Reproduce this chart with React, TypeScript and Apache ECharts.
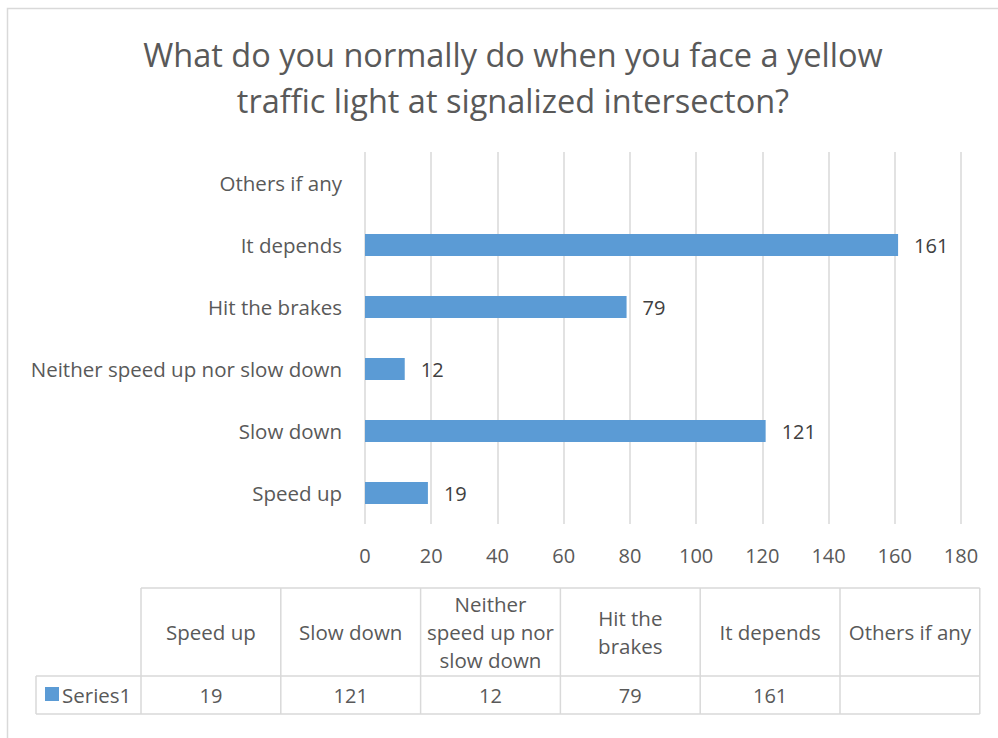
import React, { useEffect, useRef } from "react";
import * as echarts from "echarts";

const TITLE = "What do you normally do when you face a yellow\ntraffic light at signalized intersecton?";
const CATEGORIES = ["Speed up", "Slow down", "Neither speed up nor slow down", "Hit the brakes", "It depends", "Others if any"];
const TABLE_HEADERS = ["Speed up", "Slow down", "Neither\nspeed up nor\nslow down", "Hit the\nbrakes", "It depends", "Others if any"];
const SERIES_NAME = "Series1";
const VALUES: (number | null)[] = [19, 121, 12, 79, 161, null];
const X_MIN = 0;
const X_MAX = 180;
const X_STEP = 20;

const FONT = "'Open Sans', sans-serif";
const FS_TEXT = 20.5;
const FS_NUM = 20;
const TEXT = "#595959";
const LINE = "#d9d9d9";
const BAR = "#5b9bd5";

function buildTable(): any[] {
  const left = 141;
  const colW = 139.8;
  const top = 588;
  const headH = 88;
  const rowH = 38;
  const keyLeft = 36;
  const els: any[] = [];
  const n = TABLE_HEADERS.length;
  const right = left + colW * n;
  const line = (x1: number, y1: number, x2: number, y2: number) => ({
    type: "line",
    shape: { x1, y1, x2, y2 },
    style: { stroke: LINE, lineWidth: 1.5 },
    silent: true,
  });
  // horizontal rules
  els.push(line(left, top, right, top));
  els.push(line(keyLeft, top + headH, right, top + headH));
  els.push(line(keyLeft, top + headH + rowH, right, top + headH + rowH));
  // vertical rules
  els.push(line(keyLeft, top + headH, keyLeft, top + headH + rowH));
  for (let i = 0; i <= n; i++) {
    const x = left + colW * i;
    els.push(line(x, top, x, top + headH + rowH));
  }
  // header and value cells
  TABLE_HEADERS.forEach((h, i) => {
    const cx = left + colW * (i + 0.5);
    els.push({
      type: "text",
      x: cx,
      y: top + headH / 2,
      style: {
        text: h,
        fill: TEXT,
        font: `${FS_TEXT}px ${FONT}`,
        align: "center",
        verticalAlign: "middle",
        lineHeight: 28,
      },
      silent: true,
    });
    const v = VALUES[i];
    if (v !== null && v !== undefined) {
      els.push({
        type: "text",
        x: cx,
        y: top + headH + rowH / 2,
        style: {
          text: String(v),
          fill: TEXT,
          font: `${FS_NUM}px ${FONT}`,
          align: "center",
          verticalAlign: "middle",
        },
        silent: true,
      });
    }
  });
  // legend key cell
  els.push({
    type: "rect",
    shape: { x: 45, y: top + headH + 11, width: 14, height: 14 },
    style: { fill: BAR },
    silent: true,
  });
  els.push({
    type: "text",
    x: 62,
    y: top + headH + rowH / 2,
    style: {
      text: SERIES_NAME,
      fill: TEXT,
      font: `${FS_TEXT}px ${FONT}`,
      align: "left",
      verticalAlign: "middle",
    },
    silent: true,
  });
  return els;
}

export default function App() {
  const ref = useRef<HTMLDivElement>(null);

  useEffect(() => {
    if (!ref.current) return;
    const chart = echarts.init(ref.current, null, { renderer: "svg" });
    chart.setOption({
      animation: false,
      backgroundColor: "#ffffff",
      title: {
        text: TITLE,
        left: 508,
        top: 26,
        textAlign: "center",
        textStyle: {
          fontFamily: FONT,
          fontSize: 32.5,
          fontWeight: "normal",
          color: TEXT,
          lineHeight: 46,
        },
      },
      grid: { left: 365, right: 37, top: 152, bottom: 214, containLabel: false },
      xAxis: {
        type: "value",
        min: X_MIN,
        max: X_MAX,
        interval: X_STEP,
        axisLine: { show: false },
        axisTick: { show: false },
        splitLine: { show: true, lineStyle: { color: LINE, width: 1.5 } },
        axisLabel: { color: TEXT, fontFamily: FONT, fontSize: FS_NUM, margin: 21 },
      },
      yAxis: {
        type: "category",
        data: CATEGORIES,
        axisLine: { show: false },
        axisTick: { show: false },
        axisLabel: { color: TEXT, fontFamily: FONT, fontSize: FS_TEXT, margin: 23 },
      },
      series: [
        {
          name: SERIES_NAME,
          type: "bar",
          data: VALUES,
          barWidth: 22,
          itemStyle: { color: BAR },
          label: {
            show: true,
            position: "right",
            distance: 16,
            color: "#404040",
            fontFamily: FONT,
            fontSize: FS_NUM,
          },
        },
      ],
      graphic: [
        {
          type: "rect",
          shape: { x: 7.5, y: 8.5, width: 1200, height: 1000 },
          style: { fill: "none", stroke: LINE, lineWidth: 1.5 },
          silent: true,
        },
        ...buildTable(),
      ],
    });
    return () => chart.dispose();
  }, []);

  return (
    <div
      ref={ref}
      style={{ position: "absolute", left: 0, top: 0, width: 998, height: 738 }}
    />
  );
}
